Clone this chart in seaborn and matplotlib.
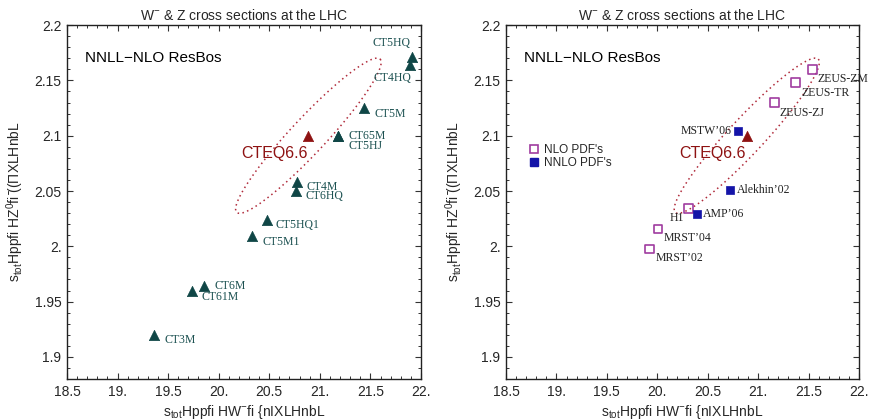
import numpy as np
import pandas as pd
import seaborn as sns
import matplotlib
matplotlib.use("Agg")
import matplotlib.pyplot as plt
from matplotlib.ticker import MultipleLocator, FuncFormatter
from matplotlib.lines import Line2D

# CTEQ-family PDF sets (left panel)
ct_names = ["CT5HQ", "CT4HQ", "CT5M", "CT65M", "CT5HJ", "CT4M", "CT6HQ",
            "CT5HQ1", "CT5M1", "CT6M", "CT61M", "CT3M"]
ct_w = [21.915, 21.89, 21.44, 21.18, 21.18, 20.77, 20.76, 20.475, 20.33, 19.858, 19.74, 19.364]
ct_z = [2.171, 2.164, 2.125, 2.100, 2.100, 2.058, 2.050, 2.024, 2.009, 1.964, 1.9595, 1.920]

# CTEQ6.6 central value + its uncertainty ellipse
cteq66_w = 20.887
cteq66_z = 2.100
ell_major = (0.709, 0.0693)
ell_minor = (0.123, -0.0112)

# other groups (right panel)
nlo_names = ["ZEUS-ZM", "ZEUS-TR", "ZEUS-ZJ", "H1", "MRST\u201904", "MRST\u201902"]
nlo_w = [21.537, 21.37, 21.164, 20.313, 20.006, 19.92]
nlo_z = [2.160, 2.148, 2.130, 2.034, 2.0156, 1.9975]

nnlo_names = ["MSTW\u201906", "Alekhin\u201902", "AMP\u201906"]
nnlo_w = [20.80, 20.72, 20.395]
nnlo_z = [2.1044, 2.0508, 2.029]

# label offsets in pixels (dx, dy, ha)
ct_offsets = {"CT5HQ": (-21, 14, "center"), "CT4HQ": (-17, -13, "center"),
              "CT5M": (10, -6, "left"), "CT65M": (10, 0, "left"), "CT5HJ": (10, -10, "left"),
              "CT4M": (10, -5, "left"), "CT6HQ": (10, -5, "left"), "CT5HQ1": (9, -5, "left"),
              "CT5M1": (10, -6, "left"), "CT6M": (10, 0, "left"), "CT61M": (9, -6, "left"),
              "CT3M": (10, -5, "left")}
nlo_offsets = {"ZEUS-ZM": (5, -10, "left"), "ZEUS-TR": (6, -10, "left"),
               "ZEUS-ZJ": (5, -10, "left"), "H1": (-12, -9, "center"),
               "MRST\u201904": (6, -9, "left"), "MRST\u201902": (6, -9, "left")}
nnlo_offsets = {"MSTW\u201906": (-6, 0, "right"), "Alekhin\u201902": (7, 0, "left"),
                "AMP\u201906": (6, 0, "left")}

TEAL = "#0f4646"
TEAL_TXT = "#1d5252"
RED = "#8e1212"
ELL = "#b02a3a"
PURPLE = "#a03ca0"
BLUE = "#1414a8"

sns.set_theme(style="ticks")
plt.rcParams["font.family"] = ["Liberation Sans", "DejaVu Sans"]
plt.rcParams["mathtext.fontset"] = "custom"
plt.rcParams["mathtext.rm"] = "Liberation Sans"

fig = plt.figure(figsize=(8.73, 4.19), dpi=100)
ax1 = fig.add_axes([0.0767, 0.0955, 0.4055, 0.8445])
ax2 = fig.add_axes([0.5796, 0.0955, 0.4044, 0.8445])

ct = pd.DataFrame({"w": ct_w, "z": ct_z, "name": ct_names})
nlo = pd.DataFrame({"w": nlo_w, "z": nlo_z, "name": nlo_names})
nnlo = pd.DataFrame({"w": nnlo_w, "z": nnlo_z, "name": nnlo_names})

t = np.linspace(0, 2 * np.pi, 300)
ell_x = cteq66_w + ell_major[0] * np.cos(t) + ell_minor[0] * np.sin(t)
ell_y = cteq66_z + ell_major[1] * np.cos(t) + ell_minor[1] * np.sin(t)


def fmt(v, pos):
    s = "%g" % round(v, 3)
    if "." not in s:
        s += "."
    return s


def annotate(ax, df, offsets, color):
    for _, r in df.iterrows():
        dx, dy, ha = offsets[r["name"]]
        ax.annotate(r["name"], (r["w"], r["z"]), xytext=(dx, dy), textcoords="offset pixels",
                    ha=ha, va="center", fontsize=8.5, color=color,
                    family=["Liberation Serif", "DejaVu Serif"])


for ax in (ax1, ax2):
    ax.plot(ell_x, ell_y, color=ELL, lw=1.1, ls=(0, (1, 2.2)))
    sns.scatterplot(x=[cteq66_w], y=[cteq66_z], marker="^", s=55, color=RED,
                    edgecolor=RED, linewidth=0.5, ax=ax, zorder=3)
    ax.text(20.22, 2.084, "CTEQ6.6", color=RED, fontsize=11.5, ha="left", va="center")
    ax.text(18.68, 2.17, "NNLL\u2212NLO ResBos", color="black", fontsize=11, ha="left", va="center")
    ax.set_xlim(18.5, 22)
    ax.set_ylim(1.88, 2.2)
    ax.xaxis.set_major_locator(MultipleLocator(0.5))
    ax.xaxis.set_minor_locator(MultipleLocator(0.1))
    ax.yaxis.set_major_locator(MultipleLocator(0.05))
    ax.yaxis.set_minor_locator(MultipleLocator(0.01))
    ax.xaxis.set_major_formatter(FuncFormatter(fmt))
    ax.yaxis.set_major_formatter(FuncFormatter(fmt))
    ax.tick_params(which="both", direction="in", top=True, right=True, labelsize=10,
                   color="#333333", pad=4)
    ax.tick_params(which="major", length=4.5, width=0.8)
    ax.tick_params(which="minor", length=2.5, width=0.7)
    for sp in ax.spines.values():
        sp.set_visible(True)
        sp.set_color("#222222")
        sp.set_linewidth(1.0)
    ax.set_title("W$^{-}$ & Z cross sections at the LHC", fontsize=10, pad=4)
    ax.set_xlabel("s$_{\\rm tot}$Hppfi HW$^{-}$fi {n\u0399XLHnbL", fontsize=10, labelpad=3)
    ax.set_ylabel("s$_{\\rm tot}$Hppfi HZ$^{0}$fi \u0304((\u03a0XLHnbL", fontsize=10, labelpad=6)

# left panel: CTEQ sets
sns.scatterplot(data=ct, x="w", y="z", marker="^", s=55, color=TEAL, edgecolor=TEAL,
                linewidth=0.5, ax=ax1, zorder=3)
annotate(ax1, ct, ct_offsets, TEAL_TXT)

# right panel: NLO (open) and NNLO (filled) sets
sns.scatterplot(data=nlo, x="w", y="z", marker="s", s=40, facecolor="none", edgecolor=PURPLE,
                linewidth=1.2, ax=ax2, zorder=3)
sns.scatterplot(data=nnlo, x="w", y="z", marker="s", s=30, color=BLUE, edgecolor=BLUE,
                linewidth=0.5, ax=ax2, zorder=3)
annotate(ax2, nlo, nlo_offsets, "#222222")
annotate(ax2, nnlo, nnlo_offsets, "#222222")

handles = [Line2D([], [], ls="none", marker="s", ms=6.3, mfc="none", mec=PURPLE, mew=1.2),
           Line2D([], [], ls="none", marker="s", ms=5.5, mfc=BLUE, mec=BLUE)]
ax2.legend(handles, ["NLO PDF's", "NNLO PDF's"], loc="upper left", bbox_to_anchor=(0.045, 0.68),
           frameon=False, fontsize=8.5, labelspacing=0.1, handletextpad=0.4,
           handlelength=1.0, borderpad=0)

for ax in (ax1, ax2):
    ax.set_xlim(18.5, 22)
    ax.set_ylim(1.88, 2.2)

fig.savefig("out.png", dpi=100)
